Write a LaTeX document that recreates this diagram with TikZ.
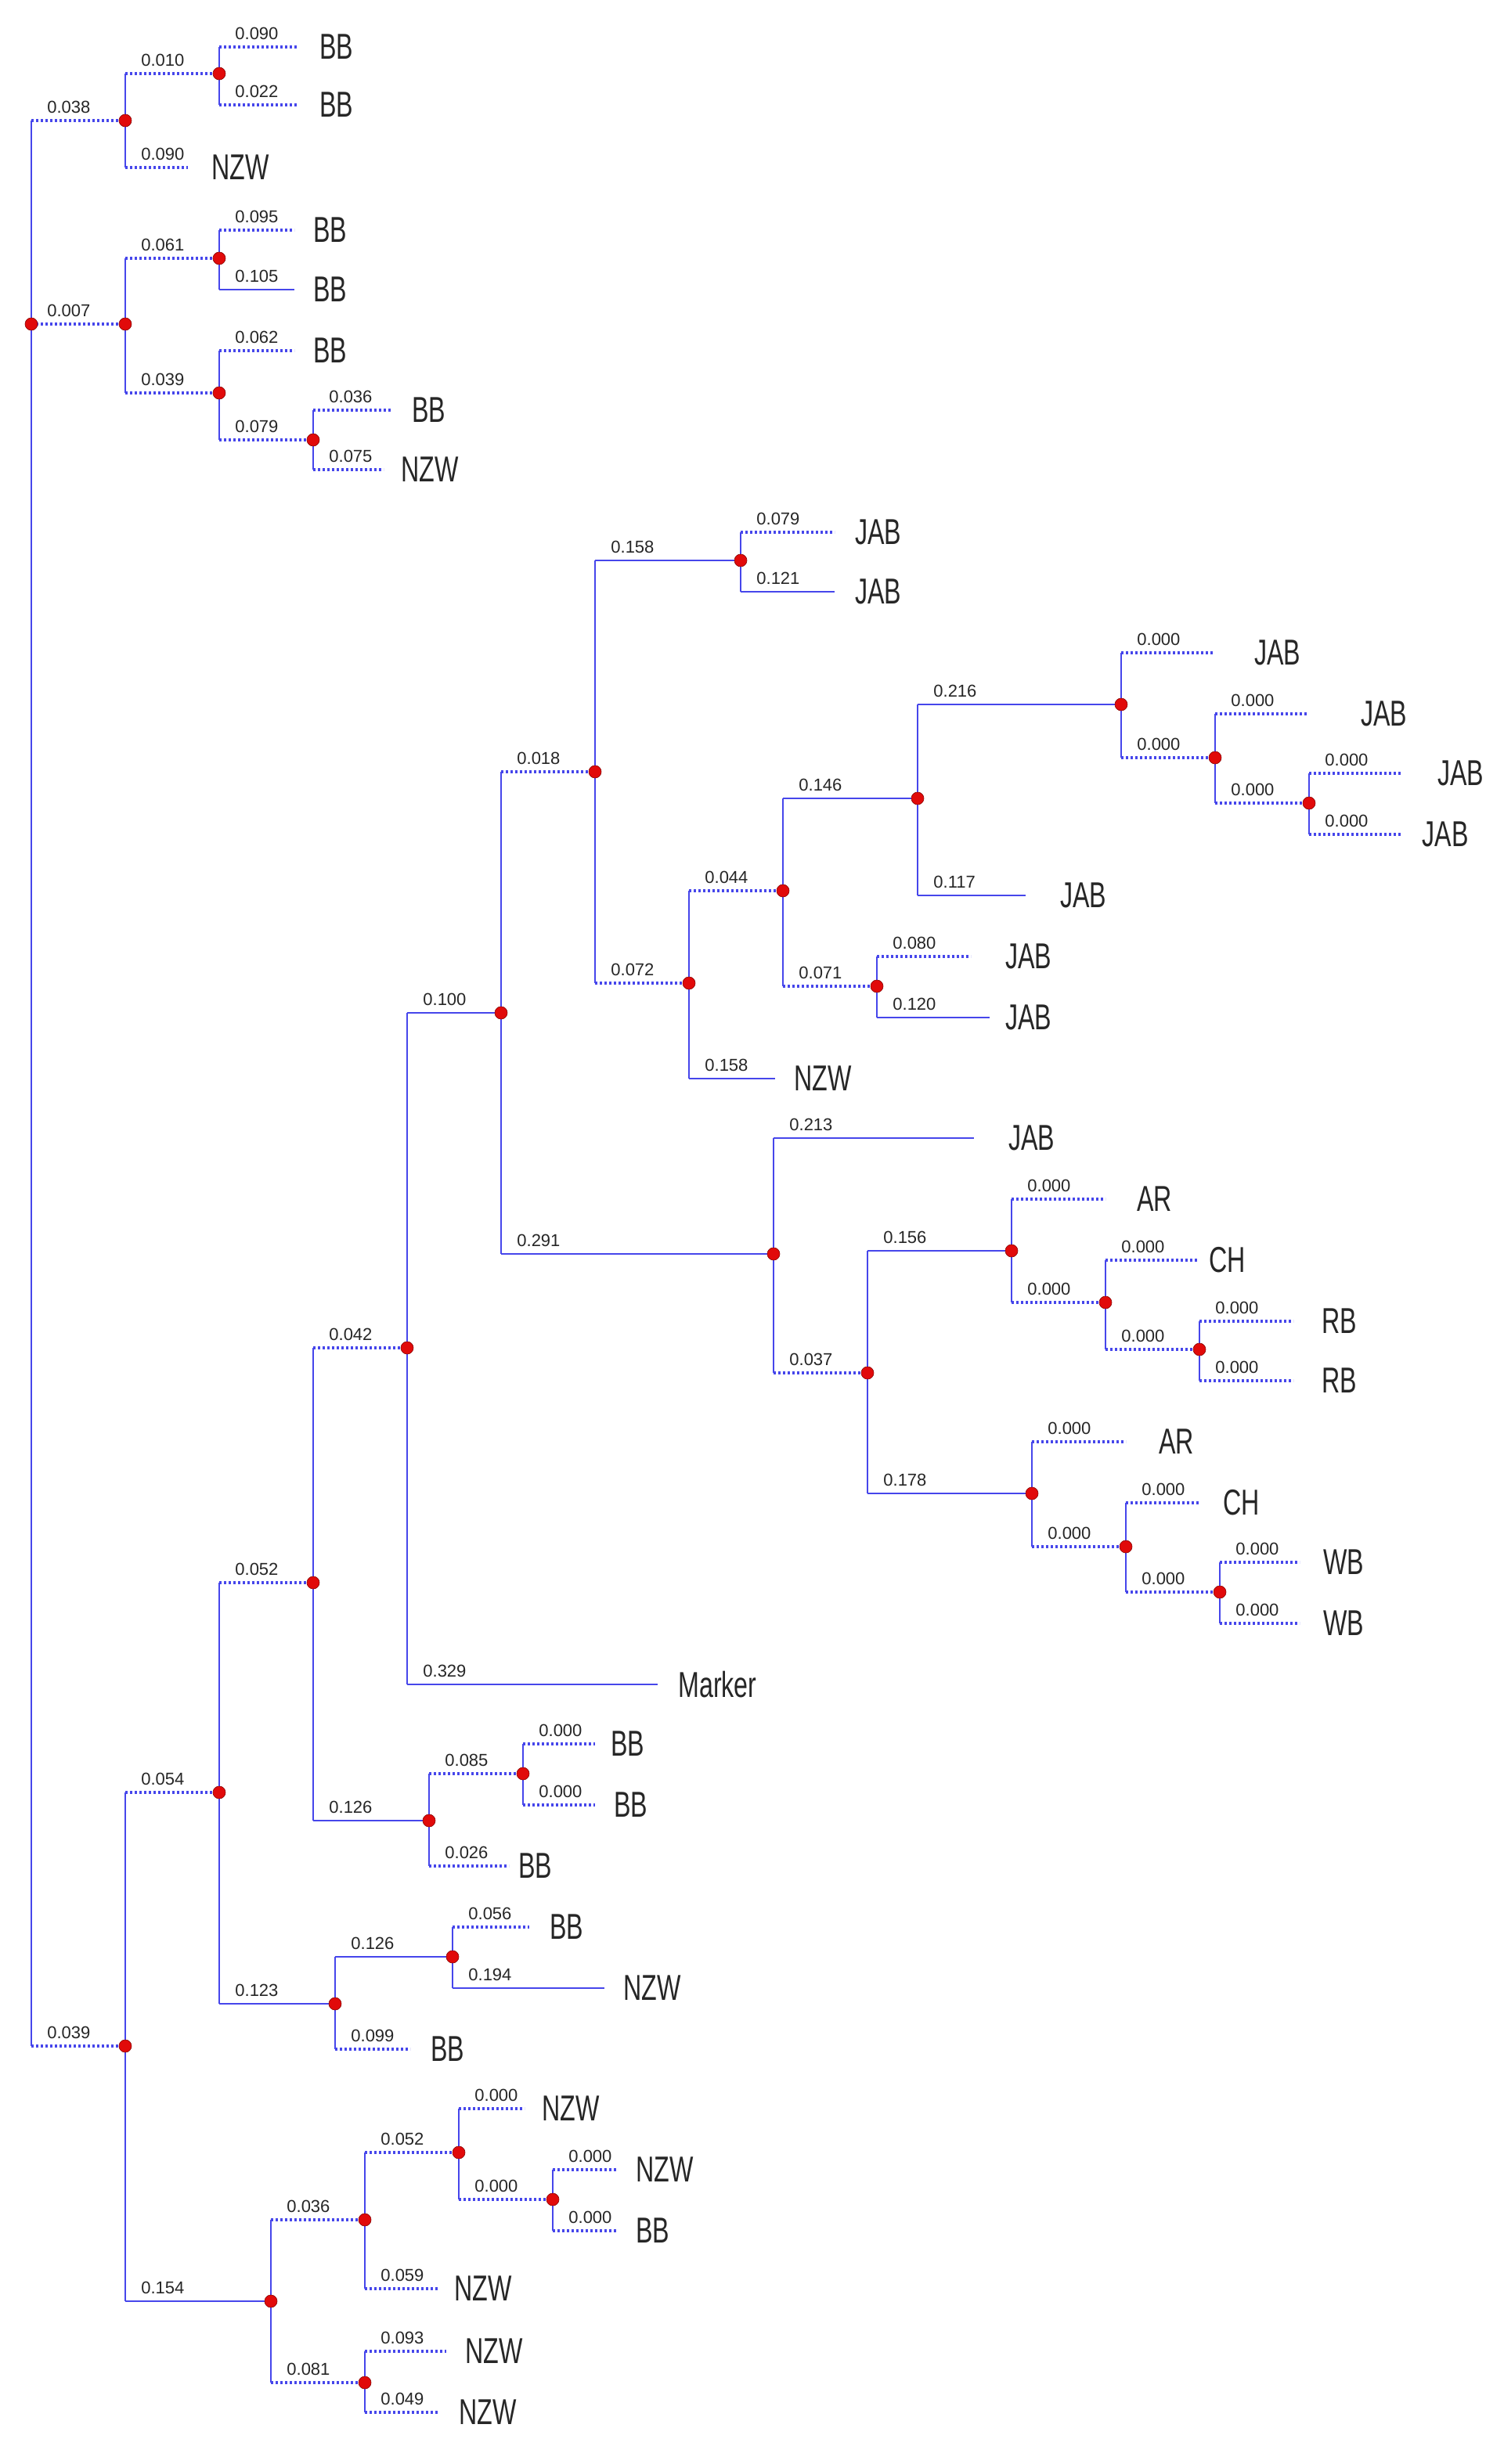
\documentclass[tikz,border=0pt]{standalone}
\usepackage{fontspec}
\setmainfont{Liberation Sans}
\newfontfamily\leaffont{Liberation Sans}[FakeStretch=0.7]
\definecolor{tb}{RGB}{70,70,235}
\definecolor{td}{RGB}{225,10,10}
\tikzset{
 so/.style={tb,line width=1.4pt},
 dt/.style={tb,line width=1.6pt,dash pattern=on 1.6pt off 1.4pt},
 vl/.style={tb,line width=1.4pt},
 lab/.style={font=\fontsize{11}{11}\selectfont,text=black!85,anchor=base west,inner sep=0pt},
 leaf/.style={font=\leaffont\fontsize{23}{23}\selectfont,anchor=west,inner sep=0pt,text=black!85},
 dot/.style={circle,fill=td,draw=td!60!black,line width=0.3pt,inner sep=0pt,minimum size=8pt}
}
% #1 style, #2 parent, #3 name, #4 x, #5 y, #6 label
\newcommand\hb[6]{\coordinate (#3) at (#4,#5); \draw[#1] (#2 |- #3) -- (#3);
 \node[lab] at ([xshift=10pt,yshift=5pt]#2 |- #3) {#6};}
% leaf: #1 style,#2 parent,#3 name,#4 line end x,#5 y,#6 label,#7 text x,#8 text
\newcommand\lf[8]{\hb{#1}{#2}{#3}{#4}{#5}{#6}\node[leaf] (#3t) at (#7,#5) {#8};}
\newcommand\vv[3]{\draw[vl] (#1 |- #2) -- (#1 |- #3);}
\newcommand\dd[1]{\node[dot] at (#1) {};}
\begin{document}
\begin{tikzpicture}[x=1pt,y=-1pt]
\useasboundingbox (0,0) rectangle (960.5,1574);
\coordinate (R) at (20,207);
% top
\hb{dt}{R}{A}{80}{77}{0.038}
\hb{dt}{R}{B}{80}{207}{0.007}
\hb{dt}{R}{C}{80}{1307}{0.039}
\vv{R}{A}{C}
\hb{dt}{A}{A1}{140}{47}{0.010}
\lf{dt}{A}{A2}{120}{107}{0.090}{135}{NZW}
\vv{A}{A1}{A2}
\lf{dt}{A1}{A1a}{190}{30}{0.090}{204}{BB}
\lf{dt}{A1}{A1b}{190}{67}{0.022}{204}{BB}
\vv{A1}{A1a}{A1b}
\hb{dt}{B}{B1}{140}{165}{0.061}
\hb{dt}{B}{B2}{140}{251}{0.039}
\vv{B}{B1}{B2}
\lf{dt}{B1}{B1a}{188}{147}{0.095}{200}{BB}
\lf{so}{B1}{B1b}{188}{185}{0.105}{200}{BB}
\vv{B1}{B1a}{B1b}
\lf{dt}{B2}{B2a}{188}{224}{0.062}{200}{BB}
\hb{dt}{B2}{B3}{200}{281}{0.079}
\vv{B2}{B2a}{B3}
\lf{dt}{B3}{B3a}{250}{262}{0.036}{263}{BB}
\lf{dt}{B3}{B3b}{245}{300}{0.075}{256}{NZW}
\vv{B3}{B3a}{B3b}
% bottom
\hb{dt}{C}{D}{140}{1145}{0.054}
\hb{so}{C}{E}{173}{1470}{0.154}
\vv{C}{D}{E}
\hb{dt}{D}{F}{200}{1011}{0.052}
\hb{so}{D}{G}{214}{1280}{0.123}
\vv{D}{F}{G}
\hb{dt}{F}{H}{260}{861}{0.042}
\hb{so}{F}{I}{274}{1163}{0.126}
\vv{F}{H}{I}
\hb{so}{H}{J}{320}{647}{0.100}
\lf{so}{H}{Mk}{420}{1076}{0.329}{433}{Marker}
\vv{H}{J}{Mk}
\hb{dt}{J}{K}{380}{493}{0.018}
\hb{so}{J}{L}{494}{801}{0.291}
\vv{J}{K}{L}
\hb{so}{K}{K1}{473}{358}{0.158}
\hb{dt}{K}{K2}{440}{628}{0.072}
\vv{K}{K1}{K2}
\lf{dt}{K1}{K1a}{533}{340}{0.079}{546}{JAB}
\lf{so}{K1}{K1b}{533}{378}{0.121}{546}{JAB}
\vv{K1}{K1a}{K1b}
\hb{dt}{K2}{M}{500}{569}{0.044}
\lf{so}{K2}{K2b}{495}{689}{0.158}{507}{NZW}
\vv{K2}{M}{K2b}
\hb{so}{M}{N}{586}{510}{0.146}
\hb{dt}{M}{O}{560}{630}{0.071}
\vv{M}{N}{O}
\hb{so}{N}{P}{716}{450}{0.216}
\lf{so}{N}{Nb}{655}{572}{0.117}{677}{JAB}
\vv{N}{P}{Nb}
\lf{dt}{P}{Pa}{775}{417}{0.000}{801}{JAB}
\hb{dt}{P}{Q}{776}{484}{0.000}
\vv{P}{Pa}{Q}
\lf{dt}{Q}{Qa}{835}{456}{0.000}{869}{JAB}
\hb{dt}{Q}{S}{836}{513}{0.000}
\vv{Q}{Qa}{S}
\lf{dt}{S}{Sa}{895}{494}{0.000}{918}{JAB}
\lf{dt}{S}{Sb}{895}{533}{0.000}{908}{JAB}
\vv{S}{Sa}{Sb}
\lf{dt}{O}{Oa}{620}{611}{0.080}{642}{JAB}
\lf{so}{O}{Ob}{632}{650}{0.120}{642}{JAB}
\vv{O}{Oa}{Ob}
\lf{so}{L}{La}{622}{727}{0.213}{644}{JAB}
\hb{dt}{L}{T}{554}{877}{0.037}
\vv{L}{La}{T}
\hb{so}{T}{U}{646}{799}{0.156}
\hb{so}{T}{V}{659}{954}{0.178}
\vv{T}{U}{V}
\lf{dt}{U}{Ua}{706}{766}{0.000}{726}{AR}
\hb{dt}{U}{U2}{706}{832}{0.000}
\vv{U}{Ua}{U2}
\lf{dt}{U2}{U2a}{765}{805}{0.000}{772}{CH}
\hb{dt}{U2}{U3}{766}{862}{0.000}
\vv{U2}{U2a}{U3}
\lf{dt}{U3}{U3a}{826}{844}{0.000}{844}{RB}
\lf{dt}{U3}{U3b}{826}{882}{0.000}{844}{RB}
\vv{U3}{U3a}{U3b}
\lf{dt}{V}{Va}{719}{921}{0.000}{740}{AR}
\hb{dt}{V}{V2}{719}{988}{0.000}
\vv{V}{Va}{V2}
\lf{dt}{V2}{V2a}{766}{960}{0.000}{781}{CH}
\hb{dt}{V2}{V3}{779}{1017}{0.000}
\vv{V2}{V2a}{V3}
\lf{dt}{V3}{V3a}{830}{998}{0.000}{845}{WB}
\lf{dt}{V3}{V3b}{830}{1037}{0.000}{845}{WB}
\vv{V3}{V3a}{V3b}
% I
\hb{dt}{I}{I1}{334}{1133}{0.085}
\lf{dt}{I}{Ib}{325}{1192}{0.026}{331}{BB}
\vv{I}{I1}{Ib}
\lf{dt}{I1}{I1a}{380}{1114}{0.000}{390}{BB}
\lf{dt}{I1}{I1b}{380}{1153}{0.000}{392}{BB}
\vv{I1}{I1a}{I1b}
% G
\hb{so}{G}{G1}{289}{1250}{0.126}
\lf{dt}{G}{Gb}{262}{1309}{0.099}{275}{BB}
\vv{G}{G1}{Gb}
\lf{dt}{G1}{G1a}{338}{1231}{0.056}{351}{BB}
\lf{so}{G1}{G1b}{386}{1270}{0.194}{398}{NZW}
\vv{G1}{G1a}{G1b}
% E
\hb{dt}{E}{E1}{233}{1418}{0.036}
\hb{dt}{E}{E2}{233}{1522}{0.081}
\vv{E}{E1}{E2}
\hb{dt}{E1}{W}{293}{1375}{0.052}
\lf{dt}{E1}{E1b}{280}{1462}{0.059}{290}{NZW}
\vv{E1}{W}{E1b}
\lf{dt}{W}{Wa}{335}{1347}{0.000}{346}{NZW}
\hb{dt}{W}{X}{353}{1405}{0.000}
\vv{W}{Wa}{X}
\lf{dt}{X}{Xa}{394}{1386}{0.000}{406}{NZW}
\lf{dt}{X}{Xb}{394}{1425}{0.000}{406}{BB}
\vv{X}{Xa}{Xb}
\lf{dt}{E2}{E2a}{285}{1502}{0.093}{297}{NZW}
\lf{dt}{E2}{E2b}{280}{1541}{0.049}{293}{NZW}
\vv{E2}{E2a}{E2b}
% dots
\foreach \n in {R,A,A1,B,B1,B2,B3,C,D,E,F,G,H,I,J,K,K1,K2,L,M,N,O,P,Q,S,T,U,U2,U3,V,V2,V3,I1,G1,E1,E2,W,X}{\dd{\n}}
\end{tikzpicture}
\end{document}
